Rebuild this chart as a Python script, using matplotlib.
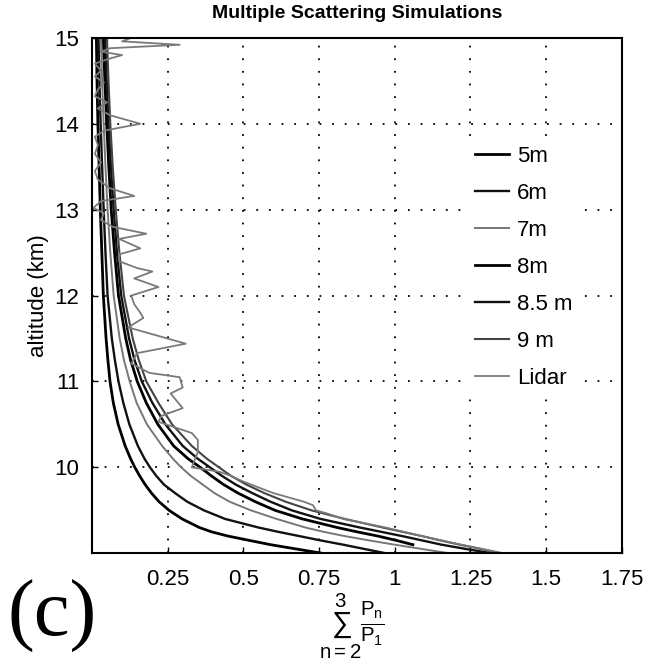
import numpy as np
import matplotlib
matplotlib.use('Agg')
import matplotlib.pyplot as plt

plt.rcParams['font.family'] = ['Liberation Sans', 'DejaVu Sans']
plt.rcParams['mathtext.fontset'] = 'custom'
plt.rcParams['mathtext.rm'] = 'Liberation Sans'
plt.rcParams['mathtext.it'] = 'Liberation Sans'

# altitude grid (km) shared by the simulated curves
altitude = [15.0, 14.5, 14.0, 13.5, 13.0, 12.5, 12.0, 11.5, 11.25, 11.0,
            10.75, 10.5, 10.25, 10.1, 10.0, 9.9, 9.8, 9.7, 9.6, 9.5,
            9.4, 9.3, 9.25, 9.2, 9.15, 9.1, 9.05, 9.0]

sim_5m = [0.015, 0.017, 0.020, 0.024, 0.028, 0.033, 0.038, 0.047, 0.053, 0.060,
          0.071, 0.087, 0.110, 0.128, 0.142, 0.158, 0.176, 0.197, 0.222, 0.255,
          0.298, 0.355, 0.395, 0.450, 0.520, 0.590, 0.675, 0.760]
sim_6m = [0.022, 0.025, 0.029, 0.034, 0.039, 0.045, 0.052, 0.066, 0.076, 0.088,
          0.104, 0.124, 0.152, 0.174, 0.192, 0.213, 0.238, 0.275, 0.315, 0.370,
          0.440, 0.550, 0.615, 0.685, 0.755, 0.830, 0.900, 0.970]
sim_7m = [0.030, 0.034, 0.039, 0.045, 0.052, 0.061, 0.072, 0.092, 0.106, 0.125,
          0.148, 0.182, 0.232, 0.268, 0.295, 0.327, 0.366, 0.405, 0.455, 0.525,
          0.610, 0.705, 0.765, 0.835, 0.915, 1.000, 1.090, 1.180]
sim_8m = [0.038, 0.043, 0.049, 0.056, 0.064, 0.075, 0.088, 0.112, 0.128, 0.150,
          0.180, 0.218, 0.270, 0.318, 0.358, 0.395, 0.435, 0.483, 0.540, 0.605,
          0.695, 0.810, 0.875, 0.945, 1.005, 1.060, np.nan, np.nan]
sim_85m = [0.044, 0.049, 0.055, 0.063, 0.072, 0.083, 0.097, 0.123, 0.141, 0.165,
           0.200, 0.243, 0.300, 0.350, 0.390, 0.430, 0.475, 0.530, 0.590, 0.660,
           0.755, 0.885, 0.955, 1.025, 1.090, 1.155, 1.235, 1.320]
sim_9m = [0.050, 0.055, 0.061, 0.069, 0.079, 0.091, 0.106, 0.135, 0.155, 0.180,
          0.220, 0.265, 0.330, 0.380, 0.420, 0.460, 0.510, 0.570, 0.640, 0.725,
          0.835, 0.960, 1.025, 1.090, 1.150, 1.215, 1.285, 1.350]

# lidar measurement
lidar_alt = [15.00, 14.96, 14.92, 14.88, 14.84, 14.80, 14.75, 14.70, 14.62, 14.55,
             14.48, 14.40, 14.32, 14.25, 14.18, 14.10, 14.00, 13.92, 13.85, 13.75,
             13.65, 13.55, 13.45, 13.35, 13.25, 13.16, 13.10, 13.02, 12.96, 12.88,
             12.80, 12.72, 12.66, 12.55, 12.48, 12.40, 12.32, 12.28, 12.20, 12.10,
             12.00, 11.90, 11.80, 11.74, 11.63, 11.44, 11.33, 11.21, 11.10, 11.05,
             10.93, 10.86, 10.69, 10.60, 10.53, 10.40, 10.32, 10.18, 10.00, 9.95,
             9.90, 9.85, 9.78, 9.70, 9.60, 9.56, 9.50, 9.46, 9.40, 9.30,
             9.20, 9.10, 9.00]
lidar_val = [0.13, 0.10, 0.29, 0.06, 0.03, 0.10, 0.05, 0.01, 0.03, 0.01,
             0.04, 0.02, 0.01, 0.05, 0.02, 0.06, 0.16, 0.04, 0.01, 0.02,
             0.01, 0.03, 0.01, 0.02, 0.06, 0.14, 0.03, 0.005, 0.04, 0.03,
             0.07, 0.18, 0.09, 0.16, 0.09, 0.09, 0.15, 0.20, 0.14, 0.22,
             0.13, 0.14, 0.16, 0.17, 0.12, 0.31, 0.15, 0.13, 0.19, 0.29,
             0.30, 0.26, 0.30, 0.23, 0.22, 0.33, 0.35, 0.35, 0.33, 0.42,
             0.46, 0.49, 0.54, 0.60, 0.70, 0.73, 0.74, 0.78, 0.83, 0.97,
             1.09, 1.22, 1.36]

labels = ['5m', '6m', '7m', '8m', '8.5 m', '9 m', 'Lidar']

fig = plt.figure(figsize=(6.56, 6.65), dpi=100)
ax = fig.add_axes([0.140, 0.168, 0.808, 0.775])

ax.plot(sim_5m, altitude, color='black', lw=2.0, label=labels[0])
ax.plot(sim_6m, altitude, color='#111111', lw=1.7, label=labels[1])
ax.plot(sim_7m, altitude, color='#777777', lw=1.4, label=labels[2])
ax.plot(sim_8m, altitude, color='black', lw=2.0, label=labels[3])
ax.plot(sim_85m, altitude, color='#111111', lw=1.7, label=labels[4])
ax.plot(sim_9m, altitude, color='#444444', lw=1.5, label=labels[5])
ax.plot(lidar_val, lidar_alt, color='#7a7a7a', lw=1.3, label=labels[6])

ax.set_xlim(0, 1.75)
ax.set_ylim(9, 15)
ax.set_xticks([0.25, 0.5, 0.75, 1, 1.25, 1.5, 1.75])
ax.set_xticklabels(['0.25', '0.5', '0.75', '1', '1.25', '1.5', '1.75'])
ax.set_yticks([10, 11, 12, 13, 14, 15])
ax.tick_params(direction='in', length=4, width=1, labelsize=16)
ax.tick_params(axis='x', pad=11)
ax.tick_params(axis='y', pad=9)
ax.grid(True, color='black', linestyle=(0, (1, 6)), linewidth=1.3)
for s in ax.spines.values():
    s.set_linewidth(1.5)

ax.set_ylabel('altitude (km)', fontsize=16, labelpad=4)
fig.text(357 / 656, 1 - 13 / 665, 'Multiple Scattering Simulations',
         fontsize=14, fontweight='bold', ha='center', va='center')

leg = ax.legend(loc='upper left', bbox_to_anchor=(0.706, 0.808), frameon=True,
                fontsize=16, handlelength=1.55, handletextpad=0.35,
                labelspacing=0.72, borderpad=0.4, borderaxespad=0.0,
                fancybox=False)
leg.get_frame().set_facecolor('white')
leg.get_frame().set_edgecolor('none')
leg.get_frame().set_alpha(1.0)

fig.text(352 / 656, 1 - 626 / 665, r'$\sum_{n=2}^{3}\frac{P_n}{P_1}$',
         fontsize=21, ha='center', va='center')
fig.text(0.012, 1 - 616 / 665, '(c)', fontsize=58, family='Liberation Serif',
         ha='left', va='center')

fig.savefig('out.png', dpi=100)
